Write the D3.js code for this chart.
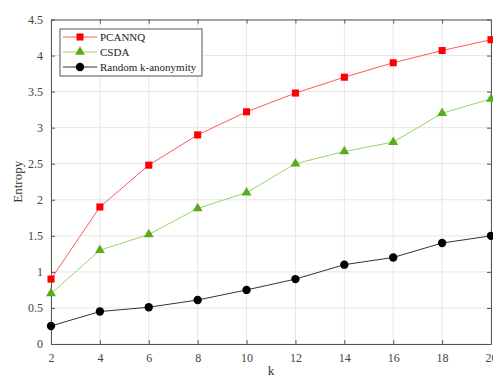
<!DOCTYPE html>
<html>
<head>
<meta charset="utf-8">
<script src="https://cdn.jsdelivr.net/npm/d3@7"></script>
<style>
  body { margin: 0; background: #fff; }
  text { font-family: "Liberation Serif", "DejaVu Serif", serif; }
</style>
</head>
<body>
<script>
// data
var kValues = [2, 4, 6, 8, 10, 12, 14, 16, 18, 20];
var pcannq = [0.9, 1.9, 2.48, 2.9, 3.22, 3.48, 3.7, 3.9, 4.07, 4.22];
var csda = [0.7, 1.3, 1.52, 1.88, 2.1, 2.5, 2.67, 2.8, 3.2, 3.4];
var randomK = [0.25, 0.45, 0.51, 0.61, 0.75, 0.9, 1.1, 1.2, 1.4, 1.5];
var yTicks = [0, 0.5, 1, 1.5, 2, 2.5, 3, 3.5, 4, 4.5];
var seriesNames = ["PCANNQ", "CSDA", "Random k-anonymity"];

var width = 493, height = 377;
var margin = {top: 19.5, right: 2, bottom: 33, left: 51};

var svg = d3.select("body").append("svg")
    .attr("width", width)
    .attr("height", height);

var x = d3.scaleLinear().domain([2, 20]).range([margin.left, width - margin.right]);
var y = d3.scaleLinear().domain([0, 4.5]).range([height - margin.bottom, margin.top]);

// grid
var grid = svg.append("g").attr("class", "grid");
grid.selectAll("line.gx")
    .data(kValues)
    .enter().append("line").attr("class", "gx")
    .attr("x1", function(d) { return x(d); })
    .attr("x2", function(d) { return x(d); })
    .attr("y1", y(0))
    .attr("y2", y(4.5))
    .attr("stroke", "#e6e6e6")
    .attr("stroke-width", 1);
grid.selectAll("line.gy")
    .data(yTicks)
    .enter().append("line").attr("class", "gy")
    .attr("x1", x(2))
    .attr("x2", x(20))
    .attr("y1", function(d) { return y(d); })
    .attr("y2", function(d) { return y(d); })
    .attr("stroke", "#e6e6e6")
    .attr("stroke-width", 1);

// axes (ticks inward on all sides)
var axisColor = "#555";
function styleAxis(g) {
    g.select(".domain").attr("stroke", axisColor);
    g.selectAll(".tick line").attr("stroke", axisColor);
    g.selectAll(".tick text").attr("fill", "#444").attr("font-size", 12);
}
svg.append("g")
    .attr("transform", "translate(0," + y(0) + ")")
    .call(d3.axisBottom(x).tickValues(kValues).tickSizeInner(-4).tickSizeOuter(0).tickPadding(9))
    .call(styleAxis);
svg.append("g")
    .attr("transform", "translate(0," + y(4.5) + ")")
    .call(d3.axisTop(x).tickValues(kValues).tickSizeInner(-4).tickSizeOuter(0).tickFormat(""))
    .call(styleAxis);
svg.append("g")
    .attr("transform", "translate(" + x(2) + ",0)")
    .call(d3.axisLeft(y).tickValues(yTicks).tickSizeInner(-4).tickSizeOuter(0).tickPadding(8).tickFormat(d3.format("")))
    .call(styleAxis);
svg.append("g")
    .attr("transform", "translate(" + x(20) + ",0)")
    .call(d3.axisRight(y).tickValues(yTicks).tickSizeInner(-4).tickSizeOuter(0).tickFormat(""))
    .call(styleAxis);

// axis titles
svg.append("text")
    .attr("x", (x(2) + x(20)) / 2)
    .attr("y", 375)
    .attr("text-anchor", "middle")
    .attr("font-size", 13)
    .attr("fill", "#333")
    .text("k");
svg.append("text")
    .attr("transform", "translate(22," + (y(0) + y(4.5)) / 2 + ") rotate(-90)")
    .attr("text-anchor", "middle")
    .attr("font-size", 13)
    .attr("fill", "#333")
    .text("Entropy");

var line = d3.line()
    .x(function(d, i) { return x(kValues[i]); })
    .y(function(d) { return y(d); });

var series = [
    {name: seriesNames[0], values: pcannq, line: "#ff5a5a", fill: "#ff0000", shape: d3.symbolSquare, size: 50},
    {name: seriesNames[1], values: csda, line: "#96d464", fill: "#5aab1a", shape: d3.symbolTriangle, size: 42},
    {name: seriesNames[2], values: randomK, line: "#333333", fill: "#000000", shape: d3.symbolCircle, size: 55}
];

series.forEach(function(s) {
    svg.append("path")
        .datum(s.values)
        .attr("d", line)
        .attr("fill", "none")
        .attr("stroke", s.line)
        .attr("stroke-width", 1);
    svg.append("g").selectAll("path")
        .data(s.values)
        .enter().append("path")
        .attr("transform", function(d, i) { return "translate(" + x(kValues[i]) + "," + y(d) + ")"; })
        .attr("d", d3.symbol().type(s.shape).size(s.size))
        .attr("fill", s.fill);
});

// legend
var legend = svg.append("g").attr("transform", "translate(60,29)");
legend.append("rect")
    .attr("width", 142)
    .attr("height", 47)
    .attr("fill", "#fff")
    .attr("stroke", "#555")
    .attr("stroke-width", 1);
series.forEach(function(s, i) {
    var ly = 8 + i * 15;
    legend.append("line")
        .attr("x1", 3).attr("x2", 37)
        .attr("y1", ly).attr("y2", ly)
        .attr("stroke", s.line)
        .attr("stroke-width", 1);
    legend.append("path")
        .attr("transform", "translate(20," + ly + ")")
        .attr("d", d3.symbol().type(s.shape).size(s.size))
        .attr("fill", s.fill);
    legend.append("text")
        .attr("x", 40)
        .attr("y", ly + 4)
        .attr("font-size", 11)
        .attr("fill", "#222")
        .text(s.name);
});
</script>
</body>
</html>
